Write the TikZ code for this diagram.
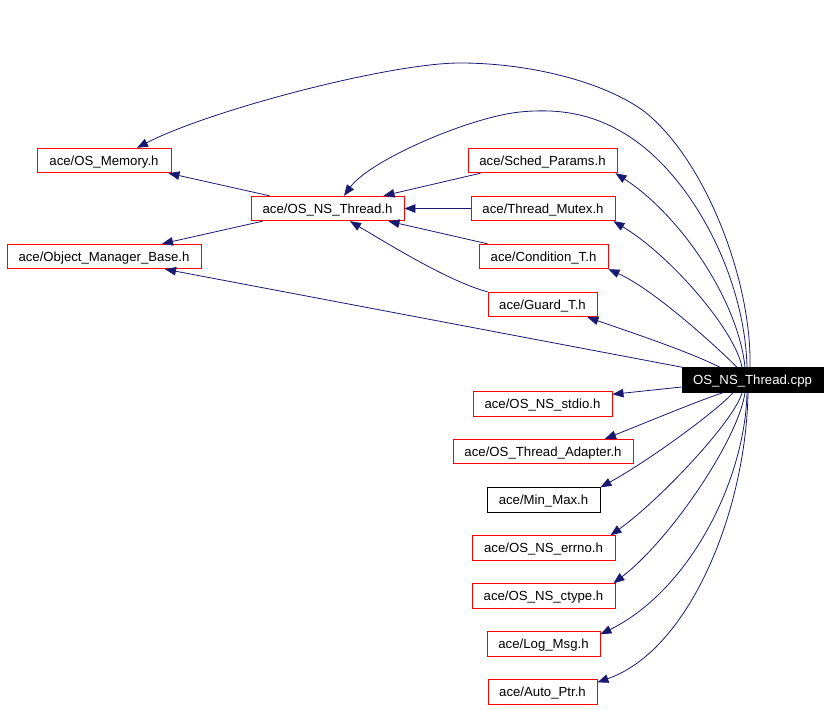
\documentclass[tikz,border=0pt]{standalone}
\usepackage{fontspec}
\setmainfont{Liberation Sans}
\usetikzlibrary{arrows.meta}
\definecolor{edgeblue}{RGB}{25,25,112}
\begin{document}
\begin{tikzpicture}[x=1pt,y=-1pt,
  hdr/.style={draw=red,line width=0.9pt,rectangle,inner sep=0pt,minimum height=24.5pt,text height=9.45pt,text depth=0pt,font=\fontsize{13.2pt}{15pt}\selectfont,text=black},
  plain/.style={hdr,draw=black},
  root/.style={hdr,draw=black,fill=black,text=white},
  dep/.style={draw=edgeblue,line width=0.8pt,-{Triangle[length=11pt,width=8.5pt]}}]
\useasboundingbox (0,0) rectangle (829,709);
% nodes
\node[root,minimum width=141pt] (cpp) at (752.5,380) {OS\_NS\_Thread.cpp};
\node[hdr,minimum width=134pt] (mem) at (104,160.5) {ace/OS\_Memory.h};
\node[hdr,minimum width=153pt] (nsth) at (327.5,208.5) {ace/OS\_NS\_Thread.h};
\node[hdr,minimum width=194pt] (omb) at (104,256.5) {ace/Object\_Manager\_Base.h};
\node[hdr,minimum width=149pt] (sched) at (542.5,160.5) {ace/Sched\_Params.h};
\node[hdr,minimum width=144pt] (mutex) at (543,208.5) {ace/Thread\_Mutex.h};
\node[hdr,minimum width=129pt] (cond) at (543.5,256.5) {ace/Condition\_T.h};
\node[hdr,minimum width=109pt] (guard) at (542.5,304.5) {ace/Guard\_T.h};
\node[hdr,minimum width=139pt] (stdio) at (542.5,404) {ace/OS\_NS\_stdio.h};
\node[hdr,minimum width=180pt] (adapter) at (543,451.5) {ace/OS\_Thread\_Adapter.h};
\node[plain,minimum width=113pt] (minmax) at (543.5,500) {ace/Min\_Max.h};
\node[hdr,minimum width=143pt] (errno) at (543.5,548) {ace/OS\_NS\_errno.h};
\node[hdr,minimum width=143pt] (ctype) at (543.5,596) {ace/OS\_NS\_ctype.h};
\node[hdr,minimum width=113pt] (logmsg) at (543.5,644) {ace/Log\_Msg.h};
\node[hdr,minimum width=109pt] (autoptr) at (542.5,692) {ace/Auto\_Ptr.h};
% edges from cpp
\draw[dep] ([xshift=-2.5pt]cpp.north) .. controls (752,280) and (705,160) .. (645,112)
  .. controls (605,82) and (530,63) .. (460,63)
  .. controls (390,63) and (210,110) .. ([xshift=33pt]mem.north);
\draw[dep] ([xshift=-5.5pt]cpp.north) .. controls (745,280) and (695,180) .. (630,137)
  .. controls (595,114) and (560,108) .. (520,112)
  .. controls (470,117) and (370,160) .. ([xshift=16.5pt]nsth.north);
\draw[dep] ([xshift=-7.5pt]cpp.north) .. controls (738,300) and (680,215) .. ([xshift=-2pt]sched.south east);
\draw[dep] ([xshift=-10.5pt]cpp.north) .. controls (735,330) and (670,255) .. ([xshift=-2pt]mutex.south east);
\draw[dep] ([xshift=-15.5pt]cpp.north) .. controls (720,350) and (655,290) .. (cond.south east);
\draw[dep] ([xshift=-32.5pt]cpp.north) .. controls (690,352) and (630,332) .. ([xshift=-10pt]guard.south east);
\draw[dep] ([xshift=1pt]cpp.north west) -- ([xshift=61pt]omb.south);
\draw[dep] ([yshift=-7pt]cpp.west) -- ([yshift=-3pt]stdio.north east);
\draw[dep] ([xshift=-29.5pt]cpp.south) .. controls (700,400) and (640,425) .. ([xshift=62pt]adapter.north);
\draw[dep] ([xshift=-19.5pt]cpp.south) .. controls (718,410) and (650,460) .. (minmax.north east);
\draw[dep] ([xshift=-10.5pt]cpp.south) .. controls (735,420) and (660,500) .. ([xshift=-5pt]errno.north east);
\draw[dep] ([xshift=-7.5pt]cpp.south) .. controls (738,440) and (670,540) .. ([xshift=-2pt]ctype.north east);
\draw[dep] ([xshift=-5.5pt]cpp.south) .. controls (745,480) and (690,590) .. ([yshift=-3pt]logmsg.north east);
\draw[dep] ([xshift=-4.5pt]cpp.south) .. controls (746,510) and (690,650) .. ([yshift=-3pt]autoptr.north east);
% edges among headers
\draw[dep] ([xshift=19pt]nsth.north west) -- ([xshift=-3pt]mem.south east);
\draw[dep] ([xshift=12pt]nsth.south west) -- ([xshift=58pt]omb.north);
\draw[dep] ([xshift=13pt]sched.south west) -- ([xshift=-21pt]nsth.north east);
\draw[dep] (mutex.west) -- (nsth.east);
\draw[dep] ([xshift=9pt]cond.north west) -- ([xshift=-16pt]nsth.south east);
\draw[dep] (guard.north west) .. controls (450,282) and (390,245) .. ([xshift=22.5pt]nsth.south);
\end{tikzpicture}
\end{document}
